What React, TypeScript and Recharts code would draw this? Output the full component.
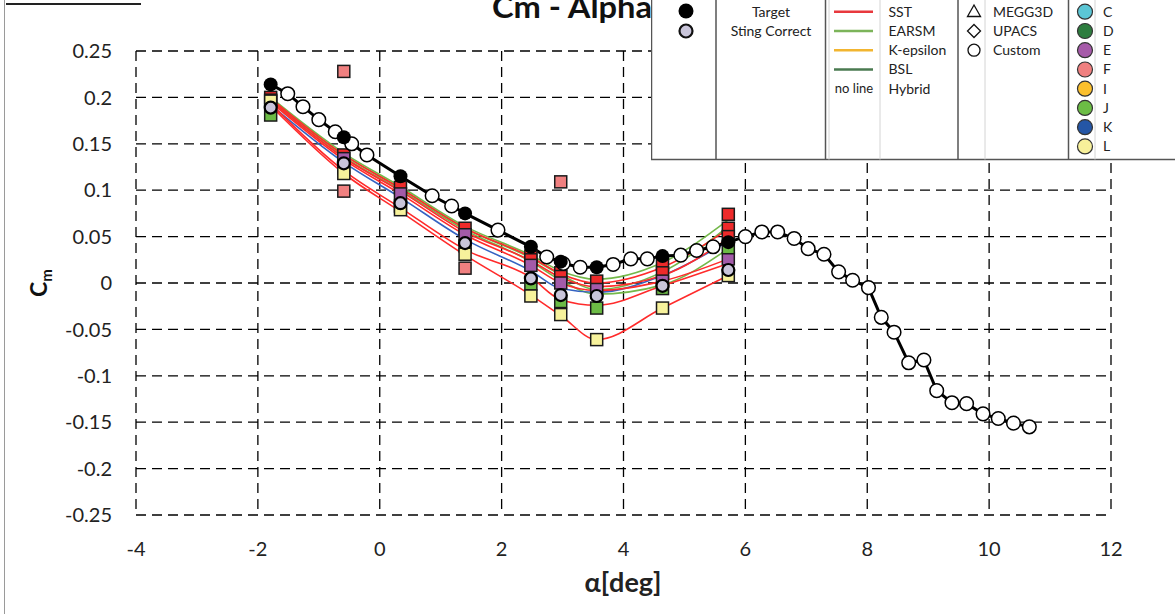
import React from 'react';
import { ComposedChart, Line, XAxis, YAxis, CartesianGrid, Legend } from 'recharts';

const xTicks = [-4, -2, 0, 2, 4, 6, 8, 10, 12];
const yTicks = [0.25, 0.2, 0.15, 0.1, 0.05, 0, -0.05, -0.1, -0.15, -0.2, -0.25];

// CFD angles of attack
const alphaCfd = [-1.79, -0.59, 0.34, 1.4, 2.48, 2.97, 3.56, 4.64, 5.72];
const cmTarget = [0.214, 0.157, 0.115, 0.075, 0.039, 0.023, 0.017, 0.029, 0.044];
const cmSting = [0.189, 0.129, 0.086, 0.043, 0.005, -0.013, -0.014, -0.003, 0.014];

// wind tunnel polar (white circles)
const alphaExp = [-1.51, -1.26, -1.0, -0.73, -0.46, -0.21, 0.86, 1.18, 1.94, 2.74, 3.01, 3.29, 3.83, 4.12, 4.39, 4.94, 5.2, 5.47, 6.0, 6.27, 6.53, 6.8, 7.03, 7.29, 7.53, 7.76, 8.02, 8.23, 8.44, 8.68, 8.93, 9.14, 9.39, 9.63, 9.9, 10.15, 10.4, 10.66];
const cmExp = [0.204, 0.19, 0.176, 0.163, 0.15, 0.138, 0.094, 0.083, 0.057, 0.028, 0.021, 0.017, 0.02, 0.026, 0.026, 0.03, 0.035, 0.039, 0.05, 0.055, 0.055, 0.048, 0.037, 0.031, 0.012, 0.003, -0.005, -0.037, -0.053, -0.086, -0.083, -0.116, -0.129, -0.13, -0.141, -0.146, -0.151, -0.155];

// participant results (squares), same alphas as alphaCfd
const sqRed1 = [0.2, 0.138, 0.103, 0.059, 0.029, 0.011, 0.002, 0.02, 0.074];
const sqRed2 = [null, null, null, null, 0.025, 0.007, null, 0.011, 0.059];
const sqRed3 = [null, null, null, null, null, null, null, null, 0.05];
const sqPurple = [0.197, 0.134, 0.096, 0.052, 0.019, 0.0, -0.007, 0.002, 0.026];
const sqGreen = [0.181, 0.124, 0.083, 0.04, -0.001, -0.02, -0.027, -0.006, 0.038];
const sqYellow = [0.196, 0.118, 0.079, 0.031, -0.014, -0.034, -0.061, -0.027, 0.008];
const alphaSalmon = [-0.59, -0.59, 1.4, 2.97];
const cmSalmon = [0.228, 0.099, 0.016, 0.109];

// turbulence model curves
const sst1 = [0.199, 0.138, 0.102, 0.059, 0.028, 0.01, 0.0, 0.017, 0.058];
const sst2 = [0.197, 0.135, 0.099, 0.055, 0.024, 0.006, -0.004, 0.008, 0.048];
const sst3 = [0.195, 0.133, 0.096, 0.052, 0.019, 0.0, -0.008, 0.002, 0.026];
const sst4 = [0.193, 0.121, 0.081, 0.036, 0.006, -0.018, -0.024, -0.003, 0.021];
const sst5 = [0.191, 0.118, 0.077, 0.03, -0.013, -0.035, -0.061, -0.027, 0.008];
const earsm1 = [0.2, 0.14, 0.104, 0.061, 0.03, 0.013, 0.004, 0.022, 0.068];
const earsm2 = [0.198, 0.138, 0.102, 0.059, 0.027, 0.009, -0.007, 0.012, 0.061];
const earsm3 = [0.196, 0.136, 0.1, 0.057, 0.023, 0.003, -0.012, -0.002, 0.037];
const kBlue = [0.192, 0.13, 0.092, 0.047, 0.013, -0.006, -0.01, 0.008, 0.045];

const RED = '#ff2b2b';
const GREEN = '#74b84a';
const BLUE = '#3563c2';

const toPoints = (alphas: number[], values: (number | null)[]) =>
  alphas.map((a, i) => ({ a, cm: values[i] })).filter((p) => p.cm != null);

const modelLines = [
  { key: 'earsm3', color: GREEN, values: earsm3 },
  { key: 'earsm2', color: GREEN, values: earsm2 },
  { key: 'earsm1', color: GREEN, values: earsm1 },
  { key: 'kBlue', color: BLUE, values: kBlue },
  { key: 'sst1', color: RED, values: sst1 },
  { key: 'sst2', color: RED, values: sst2 },
  { key: 'sst3', color: RED, values: sst3 },
  { key: 'sst4', color: RED, values: sst4 },
  { key: 'sst5', color: RED, values: sst5 },
];

const squareSets = [
  { key: 'red1', fill: '#ee2a2a', data: toPoints(alphaCfd, sqRed1) },
  { key: 'red2', fill: '#ee2a2a', data: toPoints(alphaCfd, sqRed2) },
  { key: 'red3', fill: '#ee2a2a', data: toPoints(alphaCfd, sqRed3) },
  { key: 'purple', fill: '#a35ba9', data: toPoints(alphaCfd, sqPurple) },
  { key: 'green', fill: '#6cbb45', data: toPoints(alphaCfd, sqGreen) },
  { key: 'yellow', fill: '#f7f29c', data: toPoints(alphaCfd, sqYellow) },
  { key: 'salmon', fill: '#f08080', data: toPoints(alphaSalmon, cmSalmon) },
];

const polarLine = [...toPoints(alphaCfd, cmTarget), ...toPoints(alphaExp, cmExp)].sort((p, q) => p.a - q.a);

const squareDot = (fill: string) => (props: any) => {
  const { cx, cy, index } = props;
  if (cx == null || cy == null) return <g key={`s-${index}`} />;
  return <rect key={`s-${index}`} x={cx - 6} y={cy - 6} width={12} height={12} fill={fill} stroke="#1a1a1a" strokeWidth={1.5} />;
};

const circleDot = (fill: string, r: number, sw: number) => (props: any) => {
  const { cx, cy, index } = props;
  if (cx == null || cy == null) return <g key={`c-${index}`} />;
  return <circle key={`c-${index}`} cx={cx} cy={cy} r={r} fill={fill} stroke="#000" strokeWidth={sw} />;
};

const legendRows = [11.7, 31, 50.2, 69.5, 88.7, 107.9, 127.2, 146.4];
const participants = [
  { id: 'C', color: '#5bc6d5' },
  { id: 'D', color: '#2e7d3f' },
  { id: 'E', color: '#a65aa9' },
  { id: 'F', color: '#f08080' },
  { id: 'I', color: '#fbc02d' },
  { id: 'J', color: '#6cbd45' },
  { id: 'K', color: '#2456a6' },
  { id: 'L', color: '#f7f09a' },
];
const modelNames = ['SST', 'EARSM', 'K-epsilon', 'BSL', 'Hybrid'];
const modelColors = ['#e8383d', '#7cb45a', '#f2b530', '#4a7a50'];
const meshNames = ['MEGG3D', 'UPACS', 'Custom'];

const LegendTable = () => (
  <svg width={530} height={164} style={{ display: 'block', fontFamily: 'Lato', fontSize: 14 }}>
    <g transform="translate(-651,2)">
      <rect x={651.5} y={-4} width={540} height={163.5} fill="#fff" stroke="#555" strokeWidth={1.5} />
      {[716, 825.5, 958, 1068.5].map((x) => (
        <line key={x} x1={x} x2={x} y1={-4} y2={159.5} stroke="#555" strokeWidth={1.5} />
      ))}
      {[829, 880, 985, 1095].map((x) => (
        <line key={x} x1={x} x2={x} y1={-4} y2={159.5} stroke="#d4d4d4" strokeWidth={1} />
      ))}
      <circle cx={686} cy={11} r={7.5} fill="#000" />
      <circle cx={686} cy={31} r={6.5} fill="#c9c5da" stroke="#111" strokeWidth={2.2} />
      <text x={771} y={legendRows[0]} dy="0.35em" textAnchor="middle" fill="#222">Target</text>
      <text x={771} y={legendRows[1]} dy="0.35em" textAnchor="middle" fill="#222">Sting Correct</text>
      {modelColors.map((c, i) => (
        <line key={c} x1={834} x2={873} y1={legendRows[i]} y2={legendRows[i]} stroke={c} strokeWidth={2.5} />
      ))}
      <text x={854} y={legendRows[4]} dy="0.35em" textAnchor="middle" fontSize={13} fill="#222">no line</text>
      {modelNames.map((n, i) => (
        <text key={n} x={888.5} y={legendRows[i]} dy="0.35em" fill="#222">{n}</text>
      ))}
      <path d="M974,5 L980.5,16.5 L967.5,16.5 Z" fill="none" stroke="#111" strokeWidth={1.3} />
      <path d="M974,24.5 L980.5,31 L974,37.5 L967.5,31 Z" fill="none" stroke="#111" strokeWidth={1.3} />
      <circle cx={974} cy={50.2} r={6} fill="none" stroke="#111" strokeWidth={1.3} />
      {meshNames.map((n, i) => (
        <text key={n} x={993} y={legendRows[i]} dy="0.35em" fill="#222">{n}</text>
      ))}
      {participants.map((p, i) => (
        <g key={p.id}>
          <circle cx={1085} cy={legendRows[i]} r={7.5} fill={p.color} stroke="#333" strokeWidth={1.2} />
          <text x={1103} y={legendRows[i]} dy="0.35em" fill="#222">{p.id}</text>
        </g>
      ))}
    </g>
  </svg>
);

const YLabel = () => (
  <text transform="translate(47,283) rotate(-90)" textAnchor="middle" fontWeight="bold" fontSize={23} fill="#111">
    C<tspan fontSize={15} dy={5}>m</tspan>
  </text>
);

const XLabel = () => (
  <text x={623} y={592} textAnchor="middle" fontWeight="bold" fontSize={27} fill="#222">
    α[deg]
  </text>
);

export default function App() {
  return (
    <div style={{ position: 'absolute', left: 0, top: 0, width: 1175, height: 614, background: '#fff', fontFamily: 'Lato', overflow: 'hidden' }}>
      <div style={{ position: 'absolute', left: 4, top: 0, width: 1, height: 614, background: '#9a9a9a' }} />
      <div style={{ position: 'absolute', left: 6, top: 3, width: 135, height: 2, background: '#222' }} />
      <svg width={700} height={30} style={{ position: 'absolute', left: 0, top: 0 }}>
        <text x={492} y={18} fontWeight="bold" fontSize={31} fill="#111" textLength={160} lengthAdjust="spacingAndGlyphs">
          Cm - Alpha
        </text>
      </svg>
      <ComposedChart width={1175} height={614} margin={{ top: 51, right: 64, bottom: 39, left: 66 }}>
        <CartesianGrid stroke="#000" strokeWidth={1.3} strokeDasharray="10 6" />
        <XAxis
          type="number"
          dataKey="a"
          domain={[-4, 12]}
          ticks={xTicks}
          interval={0}
          height={60}
          axisLine={false}
          tickLine={false}
          tickSize={0}
          tickMargin={27}
          tick={{ fontSize: 20, fill: '#222' }}
          label={{ content: XLabel }}
        />
        <YAxis
          type="number"
          dataKey="cm"
          domain={[-0.25, 0.25]}
          ticks={yTicks}
          interval={0}
          width={70}
          axisLine={false}
          tickLine={false}
          tickSize={0}
          tickMargin={24}
          tick={{ fontSize: 20, fill: '#222' }}
          label={{ content: YLabel }}
        />
        {modelLines.map((m) => (
          <Line
            key={m.key}
            data={toPoints(alphaCfd, m.values)}
            dataKey="cm"
            type="monotone"
            stroke={m.color}
            strokeWidth={1.6}
            dot={false}
            activeDot={false}
            legendType="none"
            isAnimationActive={false}
          />
        ))}
        {squareSets.map((s) => (
          <Line
            key={s.key}
            data={s.data}
            dataKey="cm"
            stroke="none"
            dot={squareDot(s.fill)}
            activeDot={false}
            legendType="none"
            isAnimationActive={false}
          />
        ))}
        <Line
          data={polarLine}
          dataKey="cm"
          type="linear"
          stroke="#000"
          strokeWidth={3}
          dot={false}
          activeDot={false}
          legendType="none"
          isAnimationActive={false}
        />
        <Line
          data={toPoints(alphaExp, cmExp)}
          dataKey="cm"
          stroke="none"
          dot={circleDot('#fff', 6.8, 1.5)}
          activeDot={false}
          legendType="none"
          isAnimationActive={false}
        />
        <Line
          data={toPoints(alphaCfd, cmSting)}
          dataKey="cm"
          stroke="none"
          dot={circleDot('#c9c5da', 6, 2.2)}
          activeDot={false}
          legendType="none"
          isAnimationActive={false}
        />
        <Line
          data={toPoints(alphaCfd, cmTarget)}
          dataKey="cm"
          stroke="none"
          dot={circleDot('#000', 7, 0)}
          activeDot={false}
          legendType="none"
          isAnimationActive={false}
        />
        <Legend
          layout="vertical"
          align="center"
          verticalAlign="middle"
          content={() => <LegendTable />}
          wrapperStyle={{ position: 'absolute', left: 651, top: -2, width: 530, height: 164 }}
        />
      </ComposedChart>
    </div>
  );
}
